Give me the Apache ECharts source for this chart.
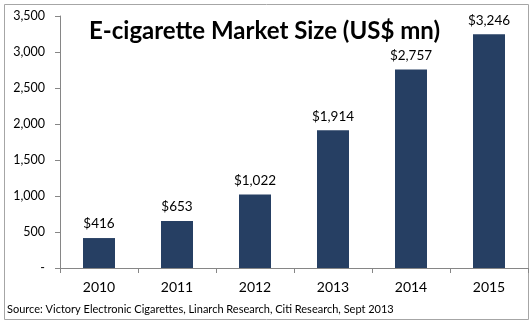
<!DOCTYPE html>
<html><head><meta charset="utf-8">
<script src="https://cdn.jsdelivr.net/npm/echarts@6/dist/echarts.min.js"></script>
<style>html,body{margin:0;padding:0;background:#fff}#c{width:532px;height:323px}</style>
</head><body><div id="c"></div>
<script>
var years = ['2010','2011','2012','2013','2014','2015'];
var marketSize = [416, 653, 1022, 1914, 2757, 3246];
var titleText = 'E-cigarette Market Size (US$ mn)';
var sourceText = 'Source: Victory Electronic Cigarettes, Linarch Research, Citi Research, Sept 2013';

var chart = echarts.init(document.getElementById('c'), null, {renderer:'canvas'});
var font = 'Lato, "Open Sans", sans-serif';
chart.setOption({
  animation:false,
  grid:{left:60, right:4, top:16, bottom:55, containLabel:false},
  graphic:[
    {type:'rect', shape:{x:4.5, y:4.5, width:524, height:315}, style:{fill:'none', stroke:'#a6a6a6', lineWidth:1}, z:-1},
    {type:'text', left:89, top:19, style:{text:titleText, font:'bold 24px '+font, fill:'#000'}},
    {type:'text', left:7, top:304, style:{text:sourceText, font:'11px '+font, fill:'#000'}}
  ],
  xAxis:{type:'category', data:years,
    axisLine:{lineStyle:{color:'#868686'}},
    axisTick:{show:true, length:5, lineStyle:{color:'#868686'}},
    axisLabel:{color:'#000', fontSize:14, fontFamily:font, margin:12}},
  yAxis:{type:'value', min:0, max:3500, interval:500,
    axisLine:{show:true, lineStyle:{color:'#868686'}},
    axisTick:{show:true, length:5, lineStyle:{color:'#868686'}},
    splitLine:{show:false},
    axisLabel:{color:'#000', fontSize:12.5, fontFamily:font, margin:15,
      formatter:function(v){return v===0?'-':v.toLocaleString('en-US');}}},
  series:[{type:'bar', data:marketSize, barWidth:32,
    itemStyle:{color:'#263f63'},
    label:{show:true, position:'top', distance:7, color:'#000', fontSize:13.5, fontFamily:font,
      formatter:function(p){return '$'+p.value.toLocaleString('en-US');}}}]
});
</script></body></html>
